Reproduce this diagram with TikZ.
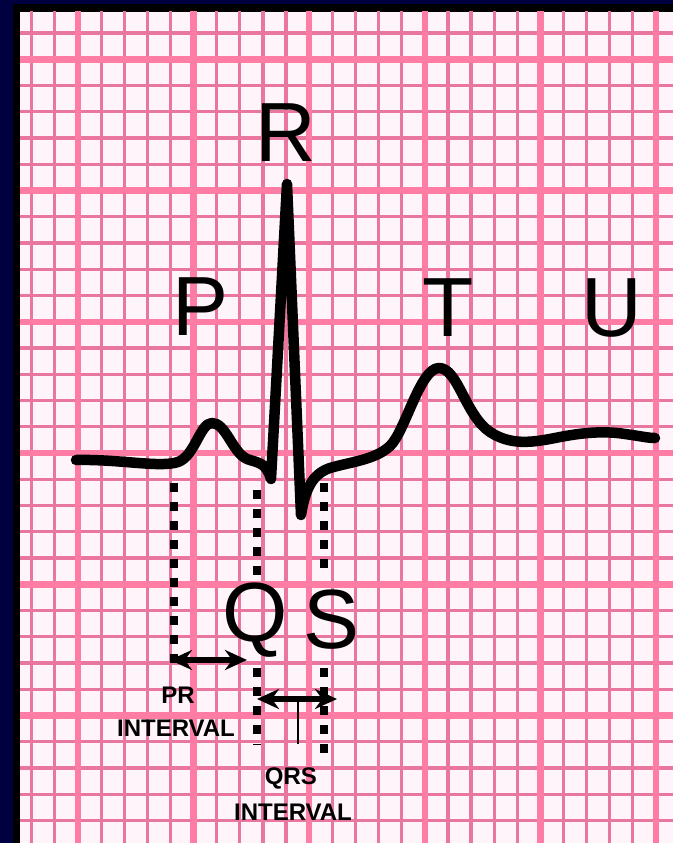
\documentclass[tikz,border=0pt]{standalone}
\usepackage{fontspec}
\setmainfont{Liberation Sans}
\usetikzlibrary{arrows.meta}
\definecolor{navy}{RGB}{0,0,64}
\definecolor{paper}{RGB}{255,244,250}
\definecolor{minorline}{RGB}{232,118,158}
\definecolor{majorline}{RGB}{255,125,165}
\tikzset{
  minorgrid/.style={draw=minorline, line width=3.2pt},
  majorgrid/.style={draw=majorline, line width=6.5pt},
  trace/.style={draw=black, line width=10.5pt, line join=round, line cap=round},
  dots/.style={draw=black, line width=8.5pt, dash pattern=on 8.5pt off 10.5pt},
  bigletter/.style={inner sep=0pt, font=\fontsize{84}{84}\selectfont},
  smalllabel/.style={inner sep=0pt, font=\bfseries\fontsize{24}{24}\selectfont},
  interval/.style={draw=black, line width=5.5pt, {Stealth[length=22pt,width=20pt]}-{Stealth[length=22pt,width=20pt]}},
  tick/.style={draw=black, line width=1.8pt}
}
\begin{document}
\begin{tikzpicture}[x=1pt,y=-1pt]
\useasboundingbox (0,0) rectangle (673,843);
\fill[navy] (0,0) rectangle (673,843);
\fill[black] (13,4) rectangle (673,843);
\fill[paper] (20,12) rectangle (673,843);
\begin{scope}
  \clip (20,12) rectangle (673,843);
  \foreach \i in {-3,...,25} \draw[minorgrid] ({78+23.12*\i},0) -- ++(0,843);
  \foreach \j in {-2,...,30} \draw[minorgrid] (0,{59.3+26.25*\j}) -- ++(673,0);
  \foreach \i in {0,...,5} \draw[majorgrid] ({78+115.6*\i},0) -- ++(0,843);
  \foreach \j in {0,...,6} \draw[majorgrid] (0,{59.3+131.24*\j}) -- ++(673,0);
\end{scope}

% ECG trace
\draw[trace] (76,460) .. controls (120,459) and (160,468) .. (178,462)
  .. controls (195,456) and (200,423) .. (212,423)
  .. controls (226,423) and (232,452) .. (247,459)
  .. controls (258,463) and (266,462) .. (271,479)
  -- (287,184) -- (301,515)
  .. controls (305,490) and (312,474) .. (330,468)
  .. controls (350,462) and (375,460) .. (390,446)
  .. controls (405,432) and (420,368) .. (439,368)
  .. controls (458,368) and (465,415) .. (490,432)
  .. controls (510,445) and (530,443) .. (555,438)
  .. controls (575,434) and (600,430) .. (625,434)
  .. controls (640,436) and (648,438) .. (655,438);

% wave labels
\node[bigletter] (P) at (201,307) {P};
\node[bigletter] (R) at (286,133) {R};
\node[bigletter] (T) at (448,308) {T};
\node[bigletter] (U) at (612,308) {U};
\node[bigletter] (Q) at (255,620) {Q};
\node[bigletter] (S) at (332,620) {S};

% dotted guide lines
\coordinate (pr1) at (174,483);
\coordinate (pr2) at (174,668);
\coordinate (q1) at (257,490);
\coordinate (q2) at (257,575);
\coordinate (q3) at (257,668);
\coordinate (q4) at (257,745);
\coordinate (s1) at (324,483);
\coordinate (s2) at (324,572);
\coordinate (s3) at (324,668);
\coordinate (s4) at (324,756);
\draw[dots] (pr1) -- (pr2);
\draw[dots] (q1) -- (q2);
\draw[dots] (q3) -- (q4);
\draw[dots] (s1) -- (s2);
\draw[dots] (s3) -- (s4);

% interval arrows
\coordinate (pra) at (170,660);
\coordinate (prb) at (247,660);
\draw[interval] (pra) -- (prb);
\coordinate (qa) at (257,699);
\coordinate (qb) at (337,699);
\draw[interval] (qa) -- (qb);
\coordinate (tk1) at (298,699);
\coordinate (tk2) at (298,744);
\draw[tick] (tk1) -- (tk2);

% interval labels
\node[smalllabel] (prl1) at (178,695) {PR};
\node[smalllabel] (prl2) at (176,728) {INTERVAL};
\node[smalllabel] (qrsl1) at (291,778) {QRS};
\node[smalllabel] (qrsl2) at (293,812) {INTERVAL};
\end{tikzpicture}
\end{document}
